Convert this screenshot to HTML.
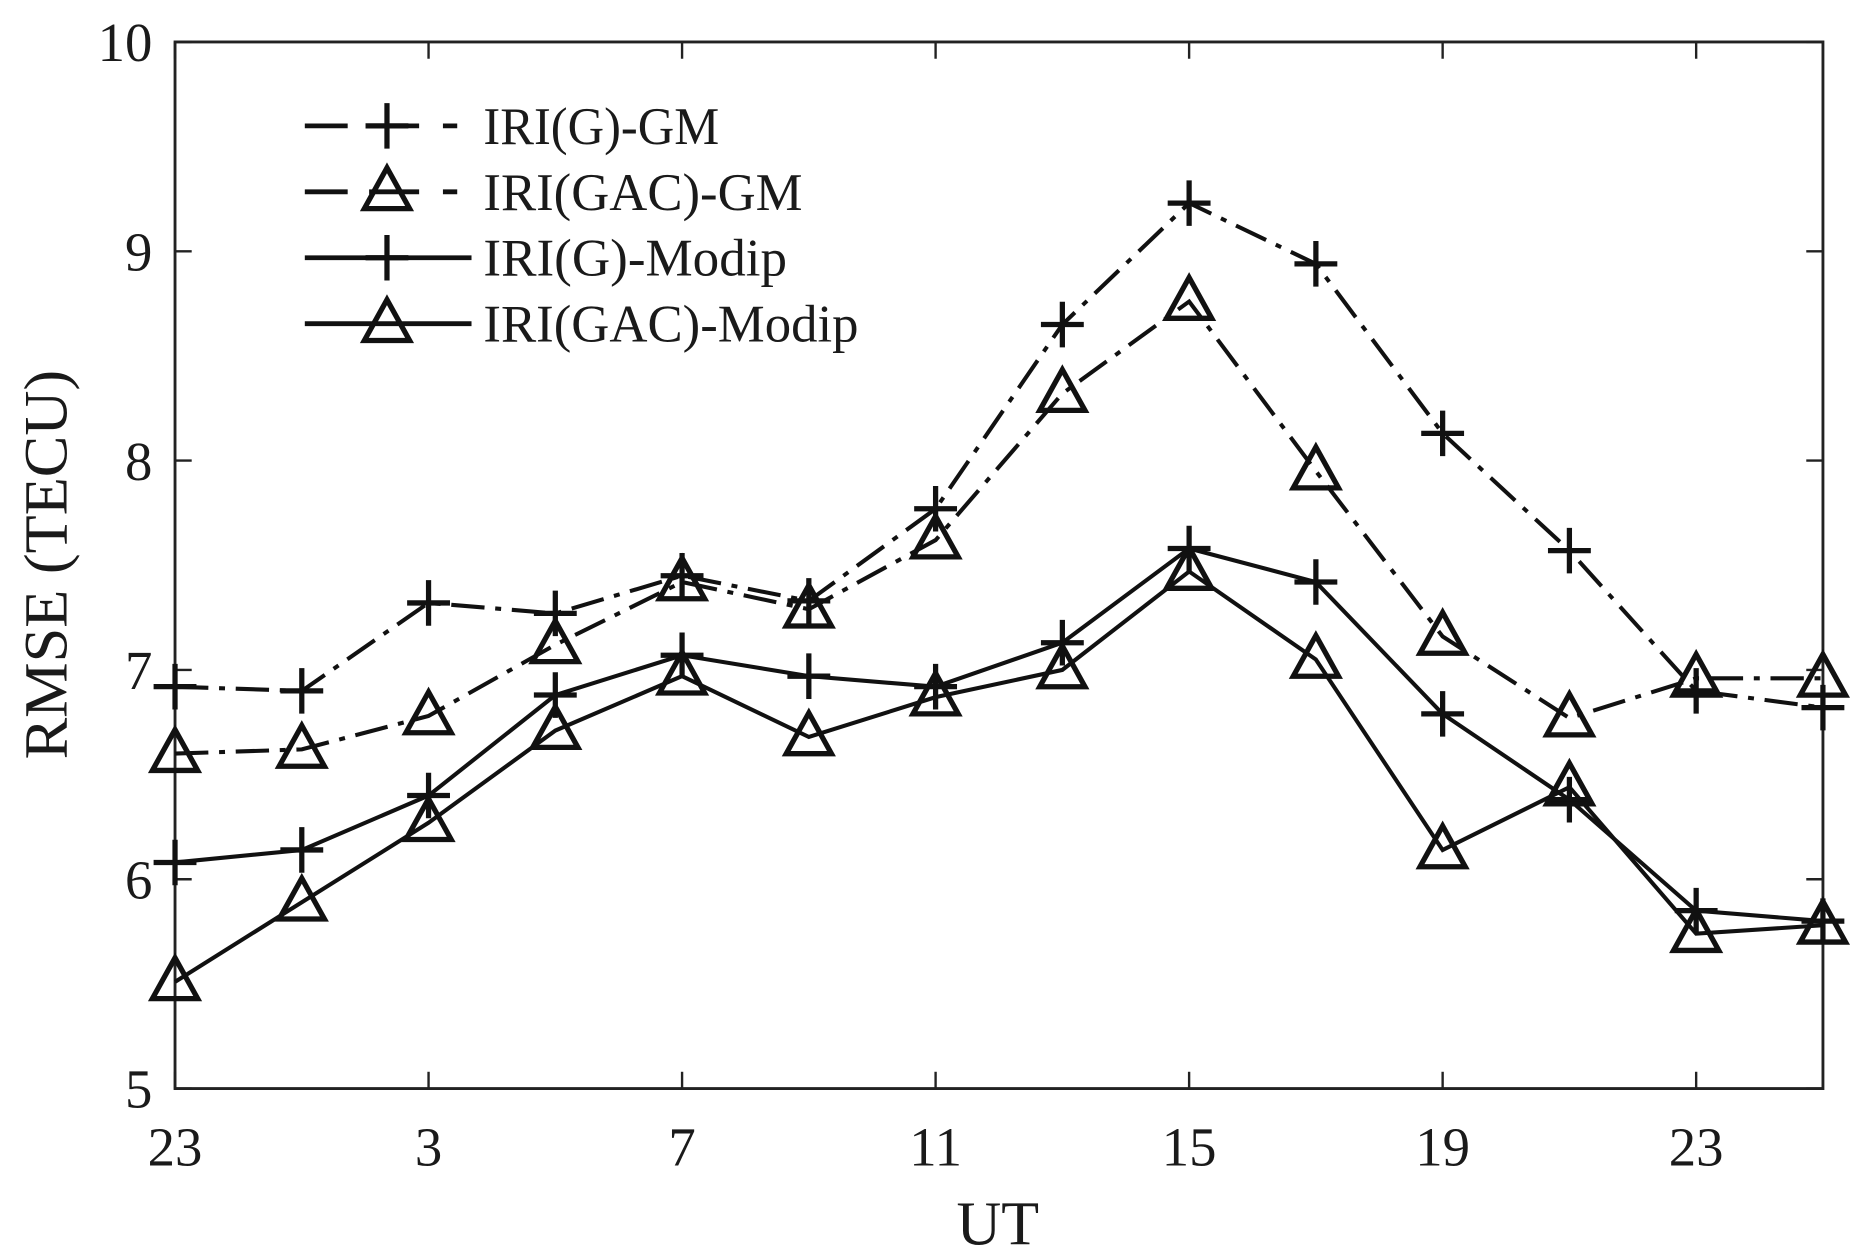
<!DOCTYPE html>
<html><head><meta charset="utf-8"><style>
html,body{margin:0;padding:0;background:#fff;}
svg{display:block;}
text{font-family:"Liberation Serif",serif;fill:#1a1a1a;}
</style></head><body>
<svg id="s" width="1867" height="1254" viewBox="0 0 1568 1046" preserveAspectRatio="none" xmlns="http://www.w3.org/2000/svg">
<rect x="0" y="0" width="1568" height="1046" fill="#fff"/>
<g id="g"></g>
</svg>
<script>
const ns="http://www.w3.org/2000/svg";
const g=document.getElementById('g');
function el(t,a,txt){const e=document.createElementNS(ns,t);for(const k in a)e.setAttribute(k,a[k]);if(txt!==undefined)e.textContent=txt;g.appendChild(e);return e;}
const X=i=>147+106.46*i, Y=v=>908-(v-5)*174.6;
el('rect',{x:147,y:35,width:1384,height:873,fill:'none',stroke:'#222','stroke-width':2.4});
for(let v=5;v<=10;v++){const y=Y(v);
 el('line',{x1:147,y1:y,x2:161,y2:y,stroke:'#222','stroke-width':2});
 el('line',{x1:1531,y1:y,x2:1517,y2:y,stroke:'#222','stroke-width':2});
 el('text',{x:128,y:y+16,'font-size':46,'text-anchor':'end'},String(v));}
const xl=['23','3','7','11','15','19','23'];
for(let k=0;k<7;k++){const x=X(2*k);
 el('line',{x1:x,y1:908,x2:x,y2:894,stroke:'#222','stroke-width':2});
 el('line',{x1:x,y1:35,x2:x,y2:49,stroke:'#222','stroke-width':2});
 el('text',{x:x,y:972,'font-size':46,'text-anchor':'middle'},xl[k]);}
el('text',{x:838,y:1038,'font-size':52,'text-anchor':'middle'},'UT');
el('text',{x:0,y:0,'font-size':52,'text-anchor':'middle',transform:'translate(56,471) rotate(-90)'},'RMSE (TECU)');
const D=[
 [6.92,6.90,7.32,7.27,7.45,7.33,7.77,8.65,9.23,8.94,8.13,7.57,6.90,6.82],
 [6.60,6.62,6.78,7.12,7.42,7.29,7.62,8.32,8.76,7.95,7.16,6.77,6.96,6.96],
 [6.08,6.14,6.40,6.88,7.07,6.97,6.92,7.13,7.58,7.42,6.79,6.38,5.85,5.80],
 [5.51,5.89,6.27,6.71,6.97,6.68,6.87,7.00,7.47,7.05,6.14,6.44,5.74,5.78]];
const dash=['28 9 5 9','28 9 5 9','',''];
const mk=['p','t','p','t'];
function marker(t,x,y){
 if(t==='p'){el('path',{d:`M${x-18} ${y}H${x+18}M${x} ${y-19}V${y+19}`,stroke:'#111','stroke-width':4.4,fill:'none'});}
 else{el('path',{d:`M${x} ${y-20}L${x+19} ${y+14}L${x-19} ${y+14}Z`,stroke:'#111','stroke-width':4.4,fill:'none','stroke-linejoin':'miter'});}
}
D.forEach((d,s)=>{
 const pts=d.map((v,i)=>X(i).toFixed(1)+','+Y(v).toFixed(1)).join(' ');
 const a={points:pts,fill:'none',stroke:'#111','stroke-width':3.4};
 if(dash[s])a['stroke-dasharray']=dash[s];
 el('polyline',a);
 d.forEach((v,i)=>marker(mk[s],X(i),Y(v)));
});
const names=['IRI(G)-GM','IRI(GAC)-GM','IRI(G)-Modip','IRI(GAC)-Modip'];
names.forEach((n,k)=>{const y=105+55*k;
 const a={x1:256,y1:y,x2:396,y2:y,stroke:'#111','stroke-width':4};
 if(dash[k])a['stroke-dasharray']='36 18 42 20 12 100';
 el('line',a);
 marker(mk[k],325,y);
 el('text',{x:406,y:y+15,'font-size':44,textLength:k==0?198:k==1?268:k==2?255:315,lengthAdjust:'spacingAndGlyphs'},n);
});
</script>
</body></html>
